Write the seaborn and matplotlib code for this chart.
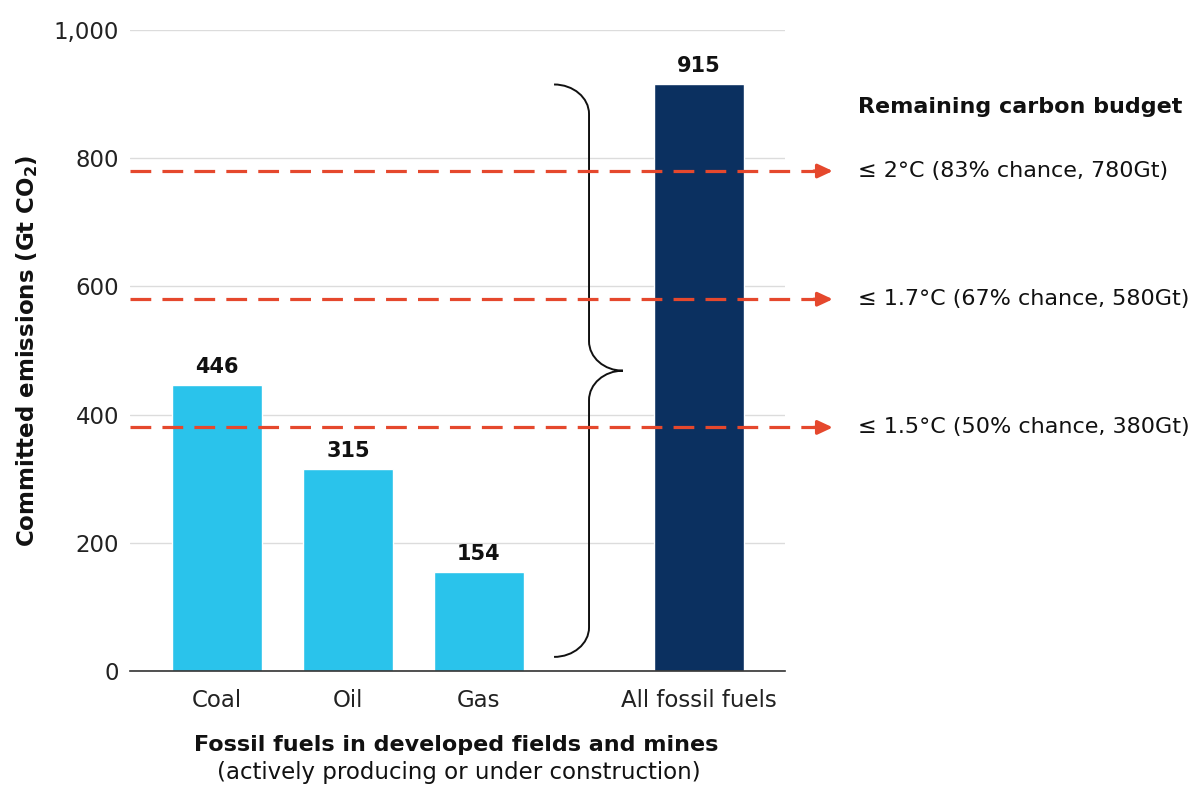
import numpy as np
import pandas as pd
import matplotlib
matplotlib.use("Agg")
import matplotlib.pyplot as plt
import seaborn as sns
from matplotlib.path import Path
from matplotlib.patches import PathPatch

# ---- data ----
categories = ["Coal", "Oil", "Gas", "All fossil fuels"]
values = [446, 315, 154, 915]
budget_values = [780, 580, 380]
budget_labels = ["≤ 2°C (83% chance, 780Gt)",
                 "≤ 1.7°C (67% chance, 580Gt)",
                 "≤ 1.5°C (50% chance, 380Gt)"]
yticks = [0, 200, 400, 600, 800, 1000]
ytick_labels = ["0", "200", "400", "600", "800", "1,000"]

# ---- style ----
sns.set_theme(style="white")
FONT = ["DejaVu Sans"]
plt.rcParams["font.family"] = FONT
plt.rcParams["mathtext.fontset"] = "dejavusans"

LIGHT = "#2AC3EB"
DARK = "#0B3060"
RED = "#E5482D"
palette = {"Coal": LIGHT, "Oil": LIGHT, "Gas": LIGHT, "All fossil fuels": DARK}

# layout positions (gap before the total bar)
positions = [0, 1, 2, 3.68]

df = pd.DataFrame({"pos": positions, "value": values, "fuel": categories})

fig = plt.figure(figsize=(12, 7.85), dpi=100)
ax = fig.add_axes([130 / 1200, 1 - 671 / 785, (785 - 130) / 1200, (671 - 30) / 785])

sns.barplot(data=df, x="pos", y="value", hue="fuel", palette=palette,
            native_scale=True, width=0.687, saturation=1, legend=False, ax=ax)

ax.set_xlim(-0.664, 4.336)
ax.set_ylim(0, 1000)
ax.set_xticks(positions, categories)
ax.set_yticks(yticks, ytick_labels)
ax.tick_params(axis="x", length=0, pad=13, labelsize=16.5, labelcolor="#222222")
ax.tick_params(axis="y", length=0, pad=8, labelsize=16.5, labelcolor="#222222")
ax.set_xlabel("")
ax.set_ylabel("")
ax.yaxis.grid(True, color="#dcdcdc", lw=1)
ax.set_axisbelow(True)
for s in ["left", "top", "right"]:
    ax.spines[s].set_visible(False)
ax.spines["bottom"].set_color("#333333")
ax.spines["bottom"].set_linewidth(1.2)

for cont in ax.containers:
    ax.bar_label(cont, fmt="%d", padding=6, fontsize=15, fontweight="bold", color="#111111")

# dashed budget lines with arrows
tr = ax.get_yaxis_transform()
for v, lab in zip(budget_values, budget_labels):
    ax.plot([0, 1.046], [v, v], transform=tr, color=RED, lw=2.3,
            ls=(0, (6.5, 3.5)), clip_on=False, zorder=5)
    ax.annotate("", xy=(1.073, v), xytext=(1.044, v), xycoords=tr, textcoords=tr,
                arrowprops=dict(arrowstyle="-|>,head_length=0.75,head_width=0.35",
                                color=RED, lw=2.3, shrinkA=0, shrinkB=0),
                annotation_clip=False, zorder=6)
    ax.text(1.112, v, lab, transform=tr, ha="left", va="center", fontsize=16,
            color="#111111", clip_on=False)

ax.text(1.112, 880, "Remaining carbon budget", transform=tr, ha="left", va="center",
        fontsize=16, fontweight="bold", color="#111111", clip_on=False)

# brace spanning the individual fuels
top = values[-1]
bottom = 22
mid = (top + bottom) / 2
xl, xline, xtip = 2.573, 2.840, 3.099
h = 46
k = 0.552
dx1 = xline - xl
dx2 = xtip - xline
verts = [
    (xl, top),
    (xl + k * dx1, top), (xline, top - (1 - k) * h), (xline, top - h),
    (xline, mid + h),
    (xline, mid + (1 - k) * h), (xtip - k * dx2, mid), (xtip, mid),
    (xtip - k * dx2, mid), (xline, mid - (1 - k) * h), (xline, mid - h),
    (xline, bottom + h),
    (xline, bottom + (1 - k) * h), (xl + k * dx1, bottom), (xl, bottom),
]
codes = [Path.MOVETO,
         Path.CURVE4, Path.CURVE4, Path.CURVE4,
         Path.LINETO,
         Path.CURVE4, Path.CURVE4, Path.CURVE4,
         Path.CURVE4, Path.CURVE4, Path.CURVE4,
         Path.LINETO,
         Path.CURVE4, Path.CURVE4, Path.CURVE4]
ax.add_patch(PathPatch(Path(verts, codes), fill=False, lw=1.4, color="#111111",
                       clip_on=False, zorder=4))

# axis titles
fig.text(27 / 1200, 1 - 351 / 785, r"Committed emissions (Gt CO$_\mathbf{2}$)",
         rotation=90, ha="center", va="center", fontsize=16.5, fontweight="bold",
         color="#111111")
fig.text(456 / 1200, 1 - 745 / 785, "Fossil fuels in developed fields and mines",
         ha="center", va="center", fontsize=16, fontweight="bold", color="#111111")
fig.text(459 / 1200, 1 - 772 / 785, "(actively producing or under construction)",
         ha="center", va="center", fontsize=16.5, color="#111111")

fig.savefig("out.png", dpi=100)
